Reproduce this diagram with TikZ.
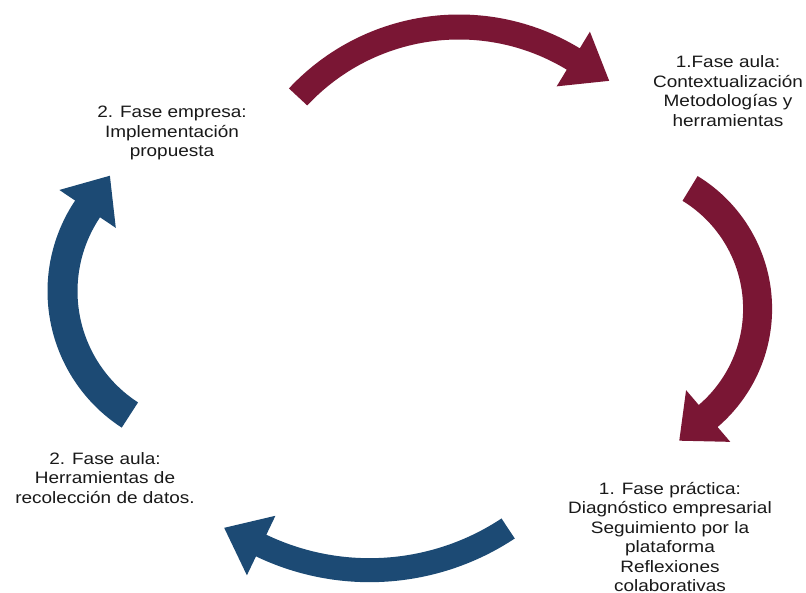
\documentclass[tikz,border=0pt]{standalone}
\usepackage{fontspec}
\setmainfont[FakeStretch=1.15]{Liberation Sans}
\usetikzlibrary{calc}
\definecolor{wine}{RGB}{122,22,52}
\definecolor{navy}{RGB}{28,74,116}

% Curved block arrow along a circle:
% #1,#2 centre, #3 radius, #4 start angle, #5 end angle,
% #6 shaft thickness, #7 head width, #8 head length, #9 colour
\newcommand{\cyclearrow}[9]{%
  \fill[#9] ($(#1,#2)+({#4}:{#3+#6/2})$)
     arc[start angle=#4, end angle=#5, radius={#3+#6/2}]
     -- ($(#1,#2)+({#5}:{#3+#7/2})$)
     -- ($(#1,#2)+({#5}:{#3})+({#5-90}:{#8})$)
     -- ($(#1,#2)+({#5}:{#3-#7/2})$)
     -- ($(#1,#2)+({#5}:{#3-#6/2})$)
     arc[start angle=#5, end angle=#4, radius={#3-#6/2}]
     -- cycle;}

\tikzset{
  phase/.style={align=center, font=\fontsize{16.5}{19.5}\selectfont, text=black!90, inner sep=0pt}
}

\begin{document}
\begin{tikzpicture}[x=1pt, y=1pt]
  \useasboundingbox (0,0) rectangle (806,593);
  \fill[white] (0,0) rectangle (806,593);

  % four arrows of the cycle
  \cyclearrow{459}{346}{220}{137}{58.7}{25}{64}{42}{wine}
  \cyclearrow{616.6}{284.2}{141}{58.6}{-49.5}{29}{68}{38}{wine}
  \cyclearrow{369.6}{273.8}{251}{-56.5}{-115.6}{24}{66}{41}{navy}
  \cyclearrow{210}{301.8}{147.5}{237.1}{146.1}{30}{68}{40}{navy}

  % phase labels
  \node[phase] (aula1) at (728,502) {1.Fase aula:\\Contextualización\\Metodologías y\\herramientas};
  \node[phase] (practica1) at (670,56) {1. Fase práctica:\\Diagnóstico empresarial\\Seguimiento por la\\plataforma\\Reflexiones\\colaborativas};
  \node[phase] (aula2) at (105,115) {2. Fase aula:\\Herramientas de\\recolección de datos.};
  \node[phase] (empresa2) at (172,460) {2. Fase empresa:\\Implementación\\propuesta};
\end{tikzpicture}
\end{document}
